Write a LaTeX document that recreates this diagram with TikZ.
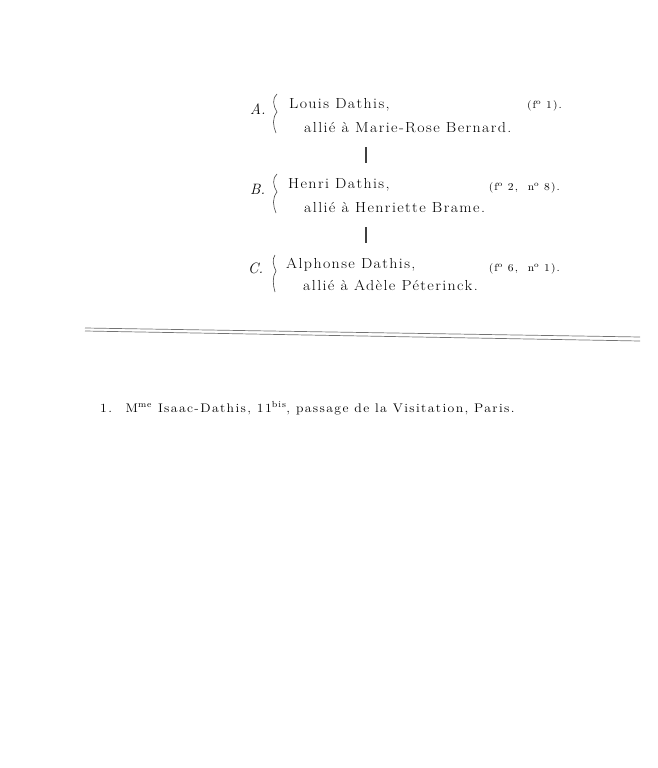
\documentclass[tikz,border=0pt]{standalone}
\usepackage{fontspec}
\setmainfont{Latin Modern Roman}
\begin{document}
\begin{tikzpicture}[x=1pt,y=-1pt,
  txt/.style={anchor=base west,inner sep=0pt,font=\fontsize{14.5}{16}\selectfont\addfontfeature{FakeStretch=1.1,LetterSpace=9.5}},
  lbl/.style={anchor=base west,inner sep=0pt,font=\fontsize{15}{16}\selectfont\itshape},
  refr/.style={anchor=base east,inner sep=0pt,font=\fontsize{10.5}{12}\selectfont\addfontfeature{FakeStretch=1.1,LetterSpace=10}},
  foot/.style={anchor=base west,inner sep=0pt,font=\fontsize{12.5}{14}\selectfont\addfontfeature{FakeStretch=1.1,LetterSpace=11}},
  link/.style={line width=1.2pt,draw=black!75},
  brc/.style={line width=0.6pt,draw=black!75},
  rule/.style={line width=0.7pt,draw=black!55}]
\useasboundingbox (0,0) rectangle (657,768);
% generation A
\node[lbl] (la) at (250,114) {A.};
\node[txt] (a1) at (289,108) {Louis Dathis,};
\node[txt] (a2) at (304,132) {allié à Marie-Rose Bernard.};
\node[refr] (ra) at (562,108) {(f\textsuperscript{o} 1).};
\draw[brc] (277,94) .. controls (272,98) and (273,106) .. (277,112) .. controls (272,118) and (273,126) .. (276,133);
% generation B
\node[lbl] (lb) at (250,194) {B.};
\node[txt] (b1) at (288,188) {Henri Dathis,};
\node[txt] (b2) at (304,212) {allié à Henriette Brame.};
\node[refr] (rb) at (560,190) {(f\textsuperscript{o} 2, \ n\textsuperscript{o} 8).};
\draw[brc] (277,174) .. controls (272,178) and (273,186) .. (277,192) .. controls (272,198) and (273,206) .. (276,213);
% generation C
\node[lbl] (lc) at (248,273) {C.};
\node[txt] (c1) at (286,268) {Alphonse Dathis,};
\node[txt] (c2) at (303,290) {allié à Adèle Péterinck.};
\node[refr] (rc) at (560,271) {(f\textsuperscript{o} 6, \ n\textsuperscript{o} 1).};
\draw[brc] (275,255) .. controls (272,259) and (273,265) .. (276,271) .. controls (272,277) and (273,285) .. (275,292);
% connectors
\coordinate (ab1) at (366,147);
\coordinate (ab2) at (366,163);
\coordinate (bc1) at (366,227);
\coordinate (bc2) at (366,243);
\draw[link] (ab1) -- (ab2);
\draw[link] (bc1) -- (bc2);
% double rule
\coordinate (r1a) at (85,328);
\coordinate (r1b) at (640,337);
\coordinate (r2a) at (85,331);
\coordinate (r2b) at (640,341);
\draw[rule] (r1a) -- (r1b);
\draw[rule] (r2a) -- (r2b);
% footnote
\node[foot] (fn) at (100,412) {1. \ M\textsuperscript{me} Isaac-Dathis, 11\textsuperscript{bis}, passage de la Visitation, Paris.};
\end{tikzpicture}
\end{document}
